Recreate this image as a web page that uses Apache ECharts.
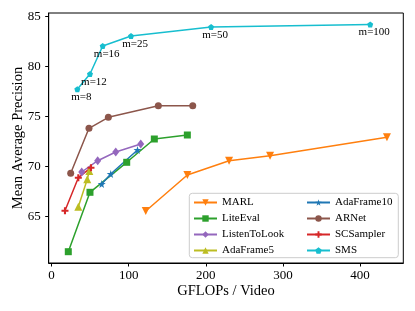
<!DOCTYPE html>
<html><head><meta charset="utf-8">
<script src="https://cdn.jsdelivr.net/npm/echarts@6/dist/echarts.min.js"></script>
<style>html,body{margin:0;padding:0;background:#fff}#c{width:415px;height:311px}</style>
</head><body><div id="c"></div>
<script>
// ---- data ----
const xTicks = [0, 100, 200, 300, 400];
const yTicks = [65, 70, 75, 80, 85];
const marlX = [122.2, 176.1, 230.2, 283.3, 434.8];
const marlY = [65.55, 69.15, 70.58, 71.08, 72.92];
const liteX = [21.8, 49.9, 97.5, 133.3, 176.1];
const liteY = [61.48, 67.42, 70.42, 72.75, 73.15];
const listenX = [39.2, 59.9, 83.3, 115.7];
const listenY = [69.45, 70.58, 71.45, 72.25];
const ada5X = [34.8, 46.4, 49.0];
const ada5Y = [65.98, 68.72, 69.55];
const ada10X = [65.1, 76.8, 111.5];
const ada10Y = [68.25, 69.25, 71.65];
const arnetX = [24.9, 48.6, 73.7, 138.5, 183.1];
const arnetY = [69.32, 73.82, 74.92, 76.08, 76.08];
const scsX = [17.5, 34.8, 51.2];
const scsY = [65.58, 68.88, 69.88];
const smsX = [33.5, 49.9, 66.4, 103.1, 206.9, 413.1];
const smsY = [77.72, 79.25, 82.05, 83.05, 83.95, 84.2];
const smsLabels = ['m=8', 'm=12', 'm=16', 'm=25', 'm=50', 'm=100'];
const names = ['MARL','LiteEval','ListenToLook','AdaFrame5','AdaFrame10','ARNet','SCSampler','SMS'];

const FONT = '"Liberation Serif","DejaVu Serif",serif';
const pair = (xs, ys) => xs.map((x, i) => [x, ys[i]]);
const STAR = 'path://M50,0 L61,35 L98,35 L68,57 L79,91 L50,70 L21,91 L32,57 L2,35 L39,35 Z';
const PENT = 'path://M50,0 L97.6,34.5 L79.4,90.5 L20.6,90.5 L2.4,34.5 Z';
const PLUS = 'path://M35,0 H65 V35 H100 V65 H65 V100 H35 V65 H0 V35 H35 Z';
const DTRI = 'path://M0,0 L100,0 L50,100 Z';
const DIAM = 'path://M50,0 L80,50 L50,100 L20,50 Z';

function ser(name, xs, ys, color, symbol, size, extra) {
  return Object.assign({
    name, type: 'line', data: pair(xs, ys), symbol, symbolSize: size,
    lineStyle: { color, width: 1.5 }, itemStyle: { color },
    showAllSymbol: true, animation: false
  }, extra || {});
}

const series = [
  ser('MARL', marlX, marlY, '#ff7f0e', DTRI, 8),
  ser('LiteEval', liteX, liteY, '#2ca02c', 'rect', 7),
  ser('ListenToLook', listenX, listenY, '#9467bd', DIAM, [7, 9]),
  ser('AdaFrame5', ada5X, ada5Y, '#bcbd22', 'triangle', 8),
  ser('AdaFrame10', ada10X, ada10Y, '#1f77b4', STAR, 8),
  ser('ARNet', arnetX, arnetY, '#8c564b', 'circle', 7),
  ser('SCSampler', scsX, scsY, '#d62728', PLUS, 7),
  ser('SMS', smsX, smsY, '#17becf', PENT, 6, {
    label: { show: true, position: 'inside', offset: [4, 8],
      formatter: p => smsLabels[p.dataIndex], fontFamily: FONT, fontSize: 11, color: '#000' }
  })
];

const axisCommon = {
  axisLine: { show: true, onZero: false, lineStyle: { color: '#000', width: 1 } },
  axisTick: { show: true, inside: false, length: 3.5, lineStyle: { color: '#000' } },
  splitLine: { show: false },
  nameMoveOverlap: false
};

const legendCommon = {
  orient: 'vertical', itemWidth: 23, itemHeight: 8, itemGap: 5,
  textStyle: { fontFamily: FONT, fontSize: 11, color: '#000' }, z: 12, padding: 0
};

const chart = echarts.init(document.getElementById('c'), null, { renderer: 'canvas' });
chart.setOption({
  animation: false,
  grid: { left: 48.7, right: 11.7, top: 13, bottom: 48, show: true, borderColor: '#000', borderWidth: 1,
    containLabel: false, outerBoundsMode: 'none' },
  xAxis: Object.assign({
    type: 'value', min: -3.6, max: 456,
    axisLabel: { customValues: xTicks, fontFamily: FONT, fontSize: 13, color: '#000', margin: 6 },
    name: 'GFLOPs / Video', nameLocation: 'middle', nameGap: 21,
    nameTextStyle: { fontFamily: FONT, fontSize: 14.5, color: '#000' }
  }, axisCommon, { axisTick: Object.assign({}, axisCommon.axisTick, { customValues: xTicks }) }),
  yAxis: Object.assign({
    type: 'value', min: 60.35, max: 85.35,
    axisLabel: { customValues: yTicks, fontFamily: FONT, fontSize: 13, color: '#000', margin: 8 },
    name: 'Mean Average Precision', nameLocation: 'middle', nameGap: 23,
    nameTextStyle: { fontFamily: FONT, fontSize: 14.5, color: '#000' }
  }, axisCommon, { axisTick: Object.assign({}, axisCommon.axisTick, { customValues: yTicks }) }),
  graphic: [{
    type: 'rect', z: 10, shape: { x: 189.3, y: 193.3, width: 209, height: 64.4, r: 3 },
    style: { fill: 'rgba(255,255,255,0.85)', stroke: '#cccccc', lineWidth: 1 }
  }],
  legend: [
    Object.assign({ data: names.slice(0, 4), left: 193, top: 197 }, legendCommon),
    Object.assign({ data: names.slice(4), left: 306, top: 197 }, legendCommon)
  ],
  series
});
</script></body></html>
